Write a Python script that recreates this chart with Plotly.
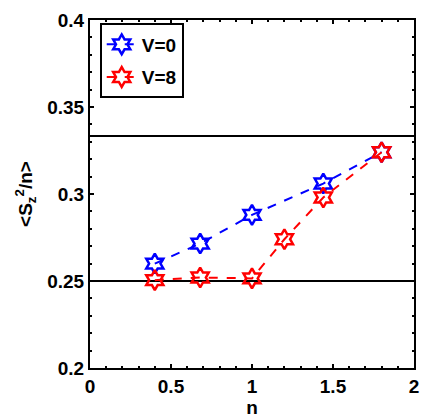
import plotly.graph_objects as go

n_v0 = [0.40, 0.68, 1.00, 1.44, 1.80]
s_v0 = [0.260, 0.2715, 0.288, 0.306, 0.324]
n_v8 = [0.40, 0.68, 1.00, 1.20, 1.44, 1.80]
s_v8 = [0.2505, 0.252, 0.2515, 0.274, 0.298, 0.324]
ref_levels = [0.25, 1/3]
x_ticks = [0, 0.5, 1, 1.5, 2]
y_ticks = [0.2, 0.25, 0.3, 0.35, 0.4]

font = dict(family="Liberation Sans, Arial", size=19, color="black")

fig = go.Figure()
for lvl in ref_levels:
    fig.add_trace(go.Scatter(x=[0, 2], y=[lvl, lvl], mode="lines",
                             line=dict(color="black", width=2), showlegend=False, hoverinfo="skip"))
fig.add_trace(go.Scatter(x=n_v0, y=s_v0, mode="lines+markers", name="<b>V=0</b>", legendgroup="a",
                         line=dict(color="blue", width=2, dash="dash"),
                         marker=dict(symbol="hexagram-open", size=15, color="blue", line=dict(width=2.5))))
fig.add_trace(go.Scatter(x=n_v8, y=s_v8, mode="lines+markers", name="<b>V=8</b>", legendgroup="b",
                         line=dict(color="red", width=2, dash="dash"),
                         marker=dict(symbol="hexagram-open", size=15, color="red", line=dict(width=2.5))))

axis_common = dict(showgrid=False, zeroline=False, showline=True, linecolor="black", linewidth=2,
                   mirror="allticks", ticks="inside", ticklen=4, tickwidth=2, tickcolor="black",
                   tickfont=dict(family="Liberation Sans, Arial", size=19, color="black"))

fig.update_xaxes(range=[0, 2], tickvals=x_ticks, ticktext=[f"<b>{v:g}</b>" for v in x_ticks],
                 title=dict(text="<b>n</b>", font=font, standoff=0),
                 minor=dict(ticks="inside", ticklen=2, tickwidth=2, dtick=0.1, tickcolor="black"),
                 **axis_common)
fig.update_yaxes(range=[0.2, 0.4], tickvals=y_ticks, ticktext=[f"<b>{v:g}</b>" for v in y_ticks],
                 title=dict(text="<b>&lt;S<sub>z</sub><sup>2</sup>/n&gt;</b>", font=font, standoff=10),
                 minor=dict(ticks="inside", ticklen=2, tickwidth=2, dtick=0.01, tickcolor="black"),
                 **axis_common)

fig.update_layout(
    width=429, height=420,
    margin=dict(l=90, r=13, t=10, b=52),
    plot_bgcolor="white", paper_bgcolor="white",
    font=font,
    legend=dict(x=0.03, y=0.99, xanchor="left", yanchor="top", traceorder="grouped",
                bordercolor="black", borderwidth=2, bgcolor="white", tracegroupgap=5,
                font=dict(family="Liberation Sans, Arial", size=19, color="black")),
)

fig.write_html("out.html", config={"displayModeBar": False},
               post_script="document.body.style.margin='0';document.body.style.overflow='hidden';")
